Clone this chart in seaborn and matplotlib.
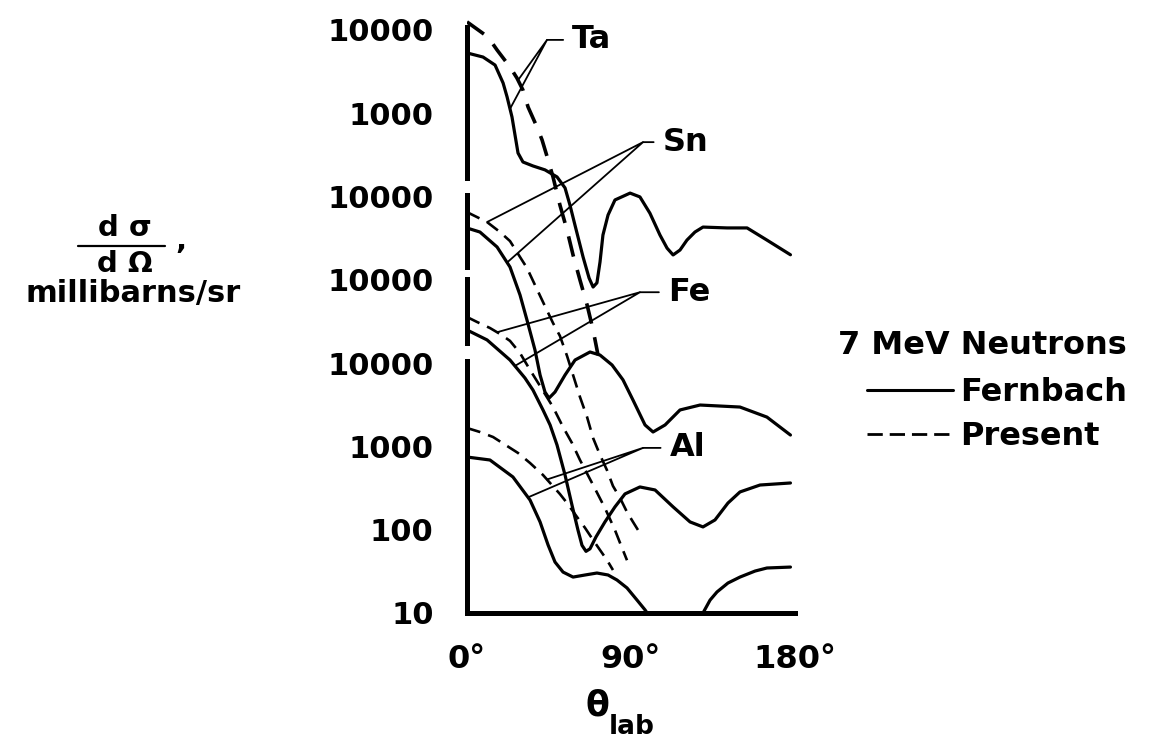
import numpy as np
import pandas as pd
import matplotlib
matplotlib.use("Agg")
import matplotlib.pyplot as plt
from matplotlib.lines import Line2D
from matplotlib.ticker import FixedLocator, FixedFormatter, NullFormatter
import seaborn as sns

# ---- 7 MeV neutron elastic angular distributions -------------------------
# theta_lab in degrees, d(sigma)/d(Omega) in millibarns/sr

ta_fern_theta = [0, 8.8, 15.4, 19.8, 22.0, 24.7, 28.0, 30.7, 36.2, 42.8, 49.4, 53.8,
                 56.5, 59.3, 63.7, 67.0, 69.2, 71.3, 73.0, 74.6, 77.4, 81.2, 89.5, 94.9,
                 100.4, 105.9, 109.8, 113.1, 116.9, 120.7, 125.1, 129.5, 142.7, 153.7,
                 164.6, 177.5]
ta_fern_xs = [5300, 4730, 3790, 2310, 1570, 900, 333, 260, 233, 209, 172, 127,
              79, 45, 18.8, 10.5, 8.2, 9.2, 16.4, 34.5, 60, 91, 110, 99,
              63, 34.5, 24, 19.9, 22.8, 30, 37.5, 43, 42, 42, 30, 20]

ta_pres_theta = [0, 11.5, 16.5, 23.6, 27.4, 30.7, 33.5, 38.4, 41.2, 44.5, 47.2, 51.0,
                 54.9, 58.2, 62.0, 65.9, 69.2, 71.9]
ta_pres_xs = [12500, 8240, 5750, 3590, 2650, 1900, 1190, 684, 478, 275, 172, 79,
              39.6, 19.9, 9.95, 5.0, 2.5, 1.25]

sn_fern_theta = [0, 7.1, 16.5, 23.6, 29.1, 32.9, 37.3, 40.1, 42.8, 45.0, 48.3, 53.8,
                 59.3, 67.5, 73.0, 79.6, 85.6, 91.1, 97.7, 102.1, 108.7, 116.9, 127.9,
                 149.8, 164.6, 177.5]
sn_fern_xs = [4190, 3750, 2480, 1425, 658, 330, 144, 72, 45, 38, 45, 72,
              109, 136, 125, 95, 63, 36, 18.1, 14.9, 18.1, 27.4, 31.4, 29.7, 22.5, 13.7]

sn_pres_theta = [0, 11.0, 18.1, 23.6, 29.1, 32.9, 37.3, 41.7, 47.2, 51.0, 54.9, 58.2,
                 62.0, 65.9, 69.2, 73.0, 76.8, 80.1, 84.0, 87.8, 91.1, 94.9]
sn_pres_xs = [6500, 4940, 3750, 2920, 1880, 1390, 867, 542, 303, 212, 122, 72,
              39.2, 22.5, 12.6, 7.9, 5.2, 3.35, 2.4, 1.63, 1.24, 0.91]

fe_fern_theta = [0, 11.0, 23.6, 31.8, 36.2, 41.7, 45.6, 49.4, 53.8, 57.6, 60.9, 63.1,
                 65.3, 67.5, 70.8, 75.7, 81.2, 86.7, 94.9, 103.2, 113.1, 122.4, 129.5,
                 136.1, 143.2, 149.8, 160.8, 177.5]
fe_fern_xs = [2500, 1900, 1090, 663, 475, 274, 181, 104, 45.4, 19.8, 9.9, 6.5,
              5.5, 5.9, 8.2, 12.4, 18.8, 26.9, 32.6, 30.0, 18.8, 12.4, 10.8,
              13.1, 20.9, 28.4, 34.4, 36.4]

fe_pres_theta = [0, 5.5, 12.6, 18.1, 23.6, 29.1, 34.6, 40.1, 47.2, 52.7, 57.6, 62.0,
                 69.2, 75.7, 81.2, 84.5, 87.8]
fe_pres_xs = [3580, 3120, 2640, 2240, 1850, 1320, 828, 531, 297, 171, 110, 68.7,
              34.4, 18.2, 9.9, 6.5, 4.3]

al_fern_theta = [0, 12.6, 25.2, 34.6, 40.1, 44.5, 48.3, 52.7, 58.2, 64.8, 71.3, 77.4,
                 82.3, 87.8, 93.3, 97.7, 101.5, 126.8, 129.5, 133.4, 137.2, 143.2,
                 149.8, 158.1, 164.6, 177.5]
al_fern_xs = [746, 687, 430, 227, 124, 65.5, 40.9, 31.0, 27.0, 28.6, 30.2, 28.6,
              24.9, 20.0, 14.3, 10.9, 8.2, 8.2, 10, 14.3, 17.9, 22.9,
              27.0, 31.9, 34.7, 35.6]

al_pres_theta = [0, 7.1, 14.3, 22.0, 28.0, 34.6, 41.7, 45.6, 51.0, 54.9, 60.4, 64.8,
                 69.2, 73.0, 76.8, 80.1]
al_pres_xs = [1664, 1490, 1297, 1012, 834, 632, 454, 364, 268, 209, 142, 105,
              75.2, 57.0, 43.3, 32.8]

# each element is shifted up by a number of decades so the curves stack
offsets = {"Ta": 1e4, "Sn": 1e2, "Fe": 1e1, "Al": 1.0}

ytick_values = [1e1, 1e2, 1e3, 1e4, 1e5, 1e6, 1e7, 1e8]
ytick_labels = ["10", "100", "1000", "10000", "10000", "10000", "1000", "10000"]
xtick_values = [0, 90, 180]
xtick_labels = ["0°", "90°", "180°"]

# pieces of the broken ordinate axis (one per element scale)
axis_segments = [(10, 1.05e4), (1.75e4, 1.02e5), (1.43e5, 1.05e6), (1.67e6, 1.1e8)]

# element labels: anchor (theta, plotted value), leader targets on the
# Present and Fernbach curves (theta), text offset in points
label_spec = {
    "Ta": (43.9, 7.6e7, 28.0, 23.6, 18),
    "Sn": (96.6, 4.5e6, 11.0, 22.0, 14),
    "Fe": (94.9, 7.1e4, 16.5, 26.3, 20),
    "Al": (96.6, 960, 43.9, 33.5, 19),
}

curves = {
    ("Ta", "Fernbach"): (ta_fern_theta, ta_fern_xs),
    ("Ta", "Present"): (ta_pres_theta, ta_pres_xs),
    ("Sn", "Fernbach"): (sn_fern_theta, sn_fern_xs),
    ("Sn", "Present"): (sn_pres_theta, sn_pres_xs),
    ("Fe", "Fernbach"): (fe_fern_theta, fe_fern_xs),
    ("Fe", "Present"): (fe_pres_theta, fe_pres_xs),
    ("Al", "Fernbach"): (al_fern_theta, al_fern_xs),
    ("Al", "Present"): (al_pres_theta, al_pres_xs),
}

rows = []
for (el, model), (th, xs) in curves.items():
    for t, v in zip(th, xs):
        rows.append({"element": el, "model": model, "theta": t, "xs": v,
                     "y": v * offsets[el]})
df = pd.DataFrame(rows)

# ---- styling --------------------------------------------------------------
sns.set_style("white")
plt.rcParams["font.family"] = ["DejaVu Sans"]
plt.rcParams["font.weight"] = "bold"
plt.rcParams["lines.scale_dashes"] = False
plt.rcParams["lines.solid_joinstyle"] = "round"
for key in ("text.color", "axes.labelcolor", "xtick.color", "ytick.color"):
    plt.rcParams[key] = "black"

W, H = 1169, 740
fig = plt.figure(figsize=(W / 100, H / 100), dpi=100)


def fx(px):
    return px / W


def fy(py):
    return 1 - py / H


ax = fig.add_axes([fx(467), fy(613), fx(795) - fx(467), fy(15.3) - fy(613)])
ax.set_yscale("log")
ax.set_xlim(0, 180)
ax.set_ylim(10, 1.5e8)
ax.set_facecolor("white")

line_styles = {
    "Fernbach": dict(linewidth=2.3, linestyle="-"),
    "Present": dict(linewidth=1.9, linestyle=(0, (10, 6))),
}
ta_present_style = dict(linewidth=2.6, linestyle=(0, (15, 10)))

for (el, model), sub in df.groupby(["element", "model"], sort=False):
    kw = ta_present_style if (el, model) == ("Ta", "Present") else line_styles[model]
    sns.lineplot(data=sub, x="theta", y="y", ax=ax, sort=False, estimator=None,
                 color="black", legend=False, zorder=3, **kw)


def curve_value(el, model, theta):
    th, xs = curves[(el, model)]
    return 10 ** np.interp(theta, th, np.log10(xs)) * offsets[el]


# leaders and element names
for el, (a_th, a_y, t_pres, t_fern, dx) in label_spec.items():
    yp = curve_value(el, "Present", t_pres)
    yf = curve_value(el, "Fernbach", t_fern)
    ax.plot([t_pres, a_th, t_fern], [yp, a_y, yf], color="black", lw=1.3, zorder=4)
    ax.annotate(el, xy=(a_th, a_y), xytext=(dx, 0), textcoords="offset points",
                ha="left", va="center", fontsize=23, fontweight="bold",
                color="black",
                arrowprops=dict(arrowstyle="-", lw=1.3, color="black",
                                shrinkA=4, shrinkB=0))

# broken left axis
for s in ("left", "top", "right"):
    ax.spines[s].set_visible(False)
ax.spines["bottom"].set_linewidth(3.6)
ax.spines["bottom"].set_color("black")
for lo, hi in axis_segments:
    ax.plot([0, 0], [lo, hi], color="black", lw=3.6, solid_capstyle="projecting",
            clip_on=False, zorder=6)

ax.yaxis.set_major_locator(FixedLocator(ytick_values))
ax.yaxis.set_major_formatter(FixedFormatter(ytick_labels))
minor_y = [m * 10.0 ** k for k in range(1, 8) for m in (2, 4, 6, 8)]
ax.yaxis.set_minor_locator(FixedLocator(minor_y))
ax.yaxis.set_minor_formatter(NullFormatter())
ax.tick_params(axis="y", which="major", direction="in", length=16, width=2.4,
               pad=24, labelsize=22, colors="black")
ax.tick_params(axis="y", which="minor", direction="in", length=7, width=2.0,
               colors="black")

ax.set_xticks(xtick_values)
ax.set_xticklabels(xtick_labels)
ax.set_xticks([45, 135], minor=True)
ax.tick_params(axis="x", which="major", direction="in", length=14, width=2.4,
               pad=22, labelsize=23, colors="black")
ax.tick_params(axis="x", which="minor", direction="in", length=7, width=2.4,
               colors="black")
ax.set_xlabel("")
ax.set_ylabel("")

# axis titles
fig.text(fx(597), fy(705), "θ", ha="center", va="center", fontsize=25)
fig.text(fx(609), fy(727), "lab", ha="left", va="center", fontsize=19)

fig.text(fx(125), fy(228), "d σ", ha="center", va="center", fontsize=21)
fig.add_artist(Line2D([fx(78), fx(165)], [fy(246), fy(246)], color="black", lw=1.6))
fig.text(fx(125), fy(264), "d Ω", ha="center", va="center", fontsize=21)
fig.text(fx(175), fy(249), ",", ha="left", va="baseline", fontsize=21)
fig.text(fx(133), fy(293), "millibarns/sr", ha="center", va="center", fontsize=22)

# legend
fig.text(fx(838), fy(346), "7 MeV Neutrons", ha="left", va="center", fontsize=23)
handles = [Line2D([], [], color="black", lw=2.2, linestyle="-"),
           Line2D([], [], color="black", lw=2.0, linestyle=(0, (11, 5)))]
fig.legend(handles, ["Fernbach", "Present"], loc="upper left",
           bbox_to_anchor=(fx(867), fy(377)), frameon=False, fontsize=23,
           handlelength=2.7, handletextpad=0.22, labelspacing=0.42,
           borderpad=0, borderaxespad=0)

fig.savefig("out.png", dpi=100, facecolor="white")
